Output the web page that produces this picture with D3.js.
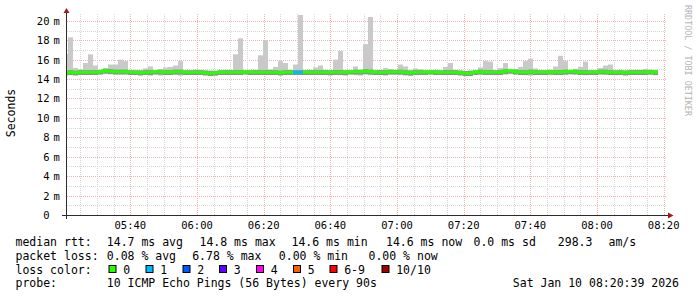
<!DOCTYPE html>
<html>
<head>
<meta charset="utf-8">
<script src="https://cdn.jsdelivr.net/npm/d3@7"></script>
<style>
  body { margin: 0; background: #fff; }
  svg { display: block; }
  text { font-family: "DejaVu Sans Mono", monospace; fill: #000; }
</style>
</head>
<body>
<div id="chart"></div>
<script>
// one value per 90s step, first one is partly before the left edge
const stepStart = new Date(2026, 0, 10, 5, 19, 48)
const stepSeconds = 90

const rttMax = [16.6, 18.3,15.15,15.0,15.65,16.55,15.4,14.95,15.1,15.5,15.5,
  16.0,15.85,14.9,14.9,14.95,15.1,15.3,14.9,15.0,15.2,
  15.25,15.4,15.85,14.9,14.9,15.0,14.95,14.9,14.9,14.85,
  14.9,14.95,14.95,16.55,18.2,14.9,14.9,14.95,16.45,18.0,
  15.0,15.25,15.85,15.65,14.95,15.5,20.6,14.9,14.95,15.2,
  15.4,14.95,14.9,16.0,16.9,14.9,14.9,15.3,14.95,17.6,
  20.4,14.9,14.95,15.15,15.0,14.95,15.5,15.3,14.95,15.1,
  15.0,14.9,14.9,14.9,14.9,15.25,15.65,14.95,14.9,14.85,
  14.9,14.9,15.2,15.85,15.8,14.9,15.15,15.65,14.95,15.05,
  15.25,15.85,16.1,15.1,14.9,14.9,14.95,15.3,16.4,15.85,
  14.9,15.05,15.25,15.8,14.9,14.9,15.15,15.4,15.5,14.9,
  14.9,14.9,14.95,14.95,14.95,15.05,14.95,14.9]

const rttMin = [14.4, 14.4,14.45,14.5,14.5,14.45,14.5,14.5,14.5,14.5,14.5,
  14.5,14.5,14.45,14.45,14.5,14.5,14.35,14.5,14.35,14.5,
  14.5,14.45,14.35,14.5,14.5,14.5,14.5,14.5,14.5,14.35,
  14.45,14.5,14.5,14.45,14.45,14.5,14.5,14.5,14.45,14.5,
  14.5,14.45,14.5,14.5,14.5,14.4,14.45,14.5,14.5,14.45,
  14.5,14.45,14.35,14.45,14.4,14.35,14.5,14.4,14.35,14.45,
  14.4,14.5,14.45,14.35,14.45,14.45,14.4,14.35,14.35,14.4,
  14.5,14.45,14.5,14.5,14.45,14.4,14.5,14.45,14.5,14.35,
  14.45,14.5,14.45,14.5,14.5,14.4,14.4,14.45,14.5,14.5,
  14.45,14.4,14.35,14.45,14.45,14.5,14.4,14.45,14.45,14.4,
  14.45,14.5,14.45,14.4,14.45,14.5,14.5,14.45,14.45,14.4,
  14.5,14.45,14.45,14.5,14.5,14.45,14.45,14.4]

const rttMedian = [14.65, 14.7,14.65,14.7,14.7,14.7,14.7,14.75,14.85,14.8,14.75,
  14.75,14.75,14.7,14.7,14.65,14.7,14.7,14.75,14.75,14.7,
  14.7,14.75,14.75,14.7,14.7,14.7,14.7,14.65,14.6,14.65,
  14.7,14.7,14.7,14.7,14.7,14.75,14.7,14.7,14.7,14.7,
  14.7,14.7,14.65,14.7,14.7,14.7,14.7,14.7,14.7,14.7,
  14.7,14.7,14.7,14.7,14.7,14.7,14.75,14.75,14.75,14.8,
  14.75,14.7,14.7,14.7,14.75,14.75,14.75,14.7,14.65,14.7,
  14.7,14.7,14.75,14.7,14.7,14.7,14.7,14.7,14.65,14.6,
  14.6,14.7,14.75,14.7,14.7,14.7,14.7,14.8,14.85,14.75,
  14.7,14.7,14.75,14.7,14.7,14.7,14.75,14.7,14.7,14.75,
  14.8,14.75,14.7,14.7,14.7,14.7,14.75,14.75,14.7,14.7,
  14.7,14.65,14.7,14.7,14.7,14.7,14.75,14.7]

// lost pings out of 10 for each step
const lossCount = rttMax.map(() => 0)
lossCount[46] = 1
lossCount[47] = 1

const yTicks = [0, 2, 4, 6, 8, 10, 12, 14, 16, 18, 20]
const xTickLabels = ["05:40", "06:00", "06:20", "06:40", "07:00", "07:20", "07:40", "08:00", "08:20"]
const lossLabels = ["0", "1", "2", "3", "4", "5", "6-9", "10/10"]
const lossColors = ["#26ff00", "#00b8ff", "#0059ff", "#5e00ff", "#ff00f5", "#ff5e00", "#ff0000", "#a10000"]

const width = 697
const height = 297
const plot_left = 67
const plot_right = 667
const plot_top = 15
const plot_bottom = 215

const svg = d3.select('#chart').append('svg')
    .attr('width', width)
    .attr('height', height)
    .attr('viewBox', `0 0 ${width} ${height}`)

svg.append('rect').attr('width', width).attr('height', height).attr('fill', '#fff')

const xScale = d3.scaleTime()
    .domain([new Date(2026, 0, 10, 5, 21, 0), new Date(2026, 0, 10, 8, 21, 0)])
    .range([plot_left, plot_right])

const yScale = d3.scaleLinear()
    .domain([0, 20.6])
    .range([plot_bottom, plot_top])

const stepTime = i => new Date(stepStart.getTime() + i * stepSeconds * 1000)

svg.append('clipPath').attr('id', 'plot-clip')
  .append('rect')
    .attr('x', plot_left).attr('y', plot_top - 1)
    .attr('width', plot_right - plot_left).attr('height', plot_bottom - plot_top + 1)

// grid: minor every 1 m / 5 min, major every 2 m / 20 min
const minorColor = '#d6d6d6'
const majorColor = '#f0b2b2'
const grid = svg.append('g')
const minorY = d3.range(1, 21, 2)
grid.selectAll('line.hminor').data(minorY).join('line')
    .attr('x1', plot_left).attr('x2', plot_right)
    .attr('y1', d => Math.round(yScale(d)) + 0.5).attr('y2', d => Math.round(yScale(d)) + 0.5)
    .attr('stroke', minorColor).attr('stroke-dasharray', '1,1')
grid.selectAll('line.hmajor').data(yTicks.filter(d => d > 0)).join('line')
    .attr('x1', plot_left).attr('x2', plot_right)
    .attr('y1', d => Math.round(yScale(d)) + 0.5).attr('y2', d => Math.round(yScale(d)) + 0.5)
    .attr('stroke', majorColor).attr('stroke-dasharray', '1,1')

const minorTimes = d3.timeMinute.every(5).range(xScale.domain()[0], xScale.domain()[1])
grid.selectAll('line.vgrid').data(minorTimes).join('line')
    .attr('x1', d => Math.round(xScale(d)) + 0.5).attr('x2', d => Math.round(xScale(d)) + 0.5)
    .attr('y1', plot_top - 1).attr('y2', plot_bottom)
    .attr('stroke', d => d.getMinutes() % 20 === 0 ? majorColor : minorColor)
    .attr('stroke-dasharray', '1,1')

// smoke
const plot = svg.append('g').attr('clip-path', 'url(#plot-clip)')
const steps = d3.range(rttMax.length)
const x0 = i => xScale(stepTime(i))
const x1 = i => xScale(stepTime(i + 1))

plot.selectAll('rect.smoke').data(steps).join('rect')
    .attr('x', x0).attr('width', i => x1(i) - x0(i))
    .attr('y', i => yScale(rttMax[i]))
    .attr('height', i => yScale(rttMin[i]) - yScale(rttMax[i]))
    .attr('fill', '#c9c9c9')

plot.selectAll('rect.inner').data(steps).join('rect')
    .attr('x', x0).attr('width', i => x1(i) - x0(i))
    .attr('y', i => yScale(Math.min(rttMax[i], rttMedian[i] + 0.22)))
    .attr('height', i => yScale(rttMedian[i] - 0.28) - yScale(Math.min(rttMax[i], rttMedian[i] + 0.22)))
    .attr('fill', '#8e8e8e')

// median line, coloured by loss
const lossIndex = n => n <= 5 ? n : (n < 10 ? 6 : 7)
const medianPoints = steps.map(i => [x0(i), yScale(rttMedian[i])])
medianPoints.push([x1(steps.length - 1), yScale(rttMedian[steps.length - 1])])

plot.append('path')
    .attr('d', d3.line().curve(d3.curveStepAfter)(medianPoints))
    .attr('fill', 'none')
    .attr('stroke', lossColors[0])
    .attr('stroke-width', 3)

plot.selectAll('line.loss').data(steps.filter(i => lossCount[i] > 0)).join('line')
    .attr('x1', x0).attr('x2', x1)
    .attr('y1', i => yScale(rttMedian[i])).attr('y2', i => yScale(rttMedian[i]))
    .attr('stroke', i => lossColors[lossIndex(lossCount[i])])
    .attr('stroke-width', 3)

// axes
const axisColor = '#2c2c2c'
const arrowColor = '#9b1c1c'
svg.append('line')
    .attr('x1', 62).attr('x2', 668).attr('y1', plot_bottom + 0.5).attr('y2', plot_bottom + 0.5)
    .attr('stroke', axisColor)
svg.append('line')
    .attr('x1', plot_left - 0.5).attr('x2', plot_left - 0.5).attr('y1', plot_bottom + 4).attr('y2', 12)
    .attr('stroke', axisColor)
svg.append('path').attr('d', 'M668,212.5 L673.5,215.5 L668,218.5 Z').attr('fill', arrowColor)
svg.append('path').attr('d', 'M63.5,13 L66.5,8 L69.5,13 Z').attr('fill', arrowColor)

// y labels
const yLab = svg.append('g').style('font-size', '10.5px')
yLab.selectAll('text.num').data(yTicks).join('text')
    .attr('x', 49.5)
    .attr('y', d => yScale(d) + 4)
    .attr('text-anchor', 'end')
    .text(d => d)
yLab.selectAll('text.unit').data(yTicks.filter(d => d > 0)).join('text')
    .attr('x', 53.5)
    .attr('y', d => yScale(d) + 4)
    .text('m')

// x labels
svg.append('g').style('font-size', '10.5px')
  .selectAll('text').data(xTickLabels).join('text')
    .attr('x', d => {
        const [h, m] = d.split(':').map(Number)
        return xScale(new Date(2026, 0, 10, h, m, 0))
    })
    .attr('y', 228.5)
    .attr('text-anchor', 'middle')
    .text(d => d)

svg.append('text')
    .attr('transform', 'translate(14.5,113) rotate(-90)')
    .attr('text-anchor', 'middle')
    .style('font-size', '11.5px')
    .text('Seconds')

svg.append('text')
    .attr('transform', 'translate(685,5) rotate(90)')
    .style('font-size', '8.4px')
    .style('fill', '#b4b4b4')
    .text('RRDTOOL / TOBI OETIKER')

// legend
const legend = svg.append('g').style('font-size', '11.5px')
const legendItems = [
    ['median rtt:', 15.5, 245.5], ['14.7 ms avg', 106.8, 245.5], ['14.8 ms max', 199.5, 245.5],
    ['14.6 ms min', 291.5, 245.5], ['14.6 ms now', 386, 245.5], ['0.0 ms sd', 473.5, 245.5],
    ['298.3', 557.8, 245.5], ['am/s', 608.5, 245.5],
    ['packet loss:', 15.5, 259.5], ['0.08 % avg', 106.8, 259.5], ['6.78 % max', 192.2, 259.5],
    ['0.00 % min', 278.8, 259.5], ['0.00 % now', 368.5, 259.5],
    ['loss color:', 15.5, 273.5],
    ['probe:', 15.5, 287], ['10 ICMP Echo Pings (56 Bytes) every 90s', 106.8, 287],
    ['Sat Jan 10 08:20:39 2026', 512.8, 287]
]
legend.selectAll('text.item').data(legendItems).join('text')
    .attr('x', d => d[1]).attr('y', d => d[2])
    .text(d => d[0])

const swatchX = [109, 146, 183, 219.5, 256.5, 293.5, 330, 382]
const swatch = legend.selectAll('g.swatch').data(lossLabels).join('g')
    .attr('transform', (d, i) => `translate(${swatchX[i]},265.5)`)
swatch.append('rect')
    .attr('width', 7).attr('height', 7)
    .attr('fill', (d, i) => lossColors[i])
    .attr('stroke', '#000')
swatch.append('text')
    .attr('x', 14.2).attr('y', 8)
    .text(d => d)
</script>
</body>
</html>
